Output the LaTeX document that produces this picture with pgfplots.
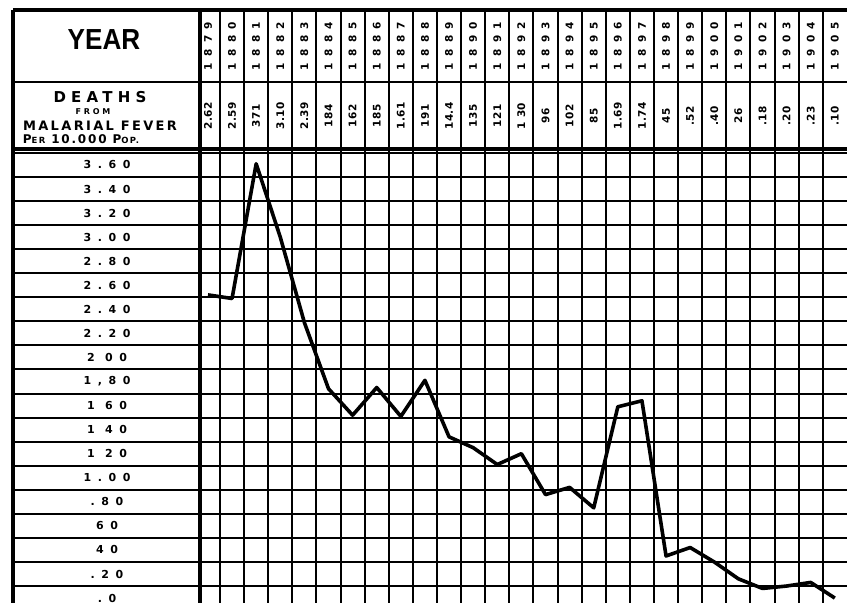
\documentclass[border=0pt]{standalone}
\usepackage{pgfplots}
\usepackage{pgfplotstable}
\pgfplotsset{compat=1.18}
\usepackage{fontspec}
\setmainfont{DejaVu Sans}
\newfontfamily\yearfont{Liberation Sans}
\newfontfamily\widefont[LetterSpace=60]{DejaVu Sans}
\newfontfamily\valfont[LetterSpace=4]{DejaVu Sans}

% deaths from malarial fever per 10,000 population
\pgfplotstableread{
year deaths
1879 2.62
1880 2.59
1881 3.71
1882 3.10
1883 2.39
1884 1.84
1885 1.62
1886 1.85
1887 1.61
1888 1.91
1889 1.44
1890 1.35
1891 1.21
1892 1.30
1893 0.96
1894 1.02
1895 0.85
1896 1.69
1897 1.74
1898 0.45
1899 0.52
1900 0.40
1901 0.26
1902 0.18
1903 0.20
1904 0.23
1905 0.10
}\malaria

\begin{document}
\begin{tikzpicture}[x=1pt,y=1pt]
\useasboundingbox (0,0) rectangle (847,603);
\begin{axis}[
  at={(13pt,0pt)}, anchor=south west,
  scale only axis, width=834pt, height=593pt,
  xmin=1870.914, xmax=1905.505, ymin=0.059, ymax=4.988,
  clip=false,
  axis x line*=top, axis y line*=left,
  axis line style={line width=3.5pt, black},
  major tick length=0pt, minor tick length=0pt,
  /pgf/number format/assume math mode=true,
  xtick={1879,1880,...,1905},
  xticklabels={1879,1880,1881,1882,1883,1884,1885,1886,1887,1888,1889,1890,1891,1892,1893,1894,1895,1896,1897,1898,1899,1900,1901,1902,1903,1904,1905},
  xticklabel style={rotate=90, anchor=center, xshift=-36pt, font=\widefont\bfseries\fontsize{10.5}{10.5}\selectfont},
  extra x ticks={1879,1880,...,1905},
  extra x tick labels={2.62,2.59,371,3.10,2.39,184,162,185,1.61,191,14.4,135,121,1 30,96,102,85,1.69,1.74,45,.52,.40,26,.18,.20,.23,.10},
  extra x tick style={xticklabel style={xshift=-70pt, font=\valfont\bfseries\fontsize{10.5}{10.5}\selectfont}},
  ytick={0.1,0.3,...,3.8},
  yticklabels={.0,.20,40,60,.80,1.00,1 20,1 40,1 60,{1,80},2 00,2.20,2.40,2.60,2.80,3.00,3.20,3.40,3.60},
  yticklabel style={anchor=center, xshift=94pt, font=\widefont\bfseries\fontsize{11}{11}\selectfont},
  minor xtick={1879.5,1880.5,...,1904.5},
  minor ytick={0.2,0.4,...,3.7},
  grid=minor,
  minor grid style={line width=2pt, black},
]
\draw[line width=3.2pt] (axis cs:1878.67,0.059) -- (axis cs:1878.67,4.988);
\draw[line width=3.2pt] (axis cs:1870.914,3.832) -- (axis cs:1905.505,3.832);
\draw[line width=2.2pt] (axis cs:1870.914,4.389) -- (axis cs:1905.505,4.389);
\addplot[black, line width=3.6pt, mark=none, line join=round] table[x=year, y=deaths] {\malaria};
\end{axis}
% header text of the left column
\node at (104,563) {\yearfont\bfseries\fontsize{29}{29}\selectfont\scalebox{0.9}[1]{YEAR}};
\node at (100,506) {\addfontfeature{LetterSpace=35}\bfseries\fontsize{15}{15}\selectfont DEATHS};
\node at (93,491) {\addfontfeature{LetterSpace=35}\bfseries\fontsize{8}{8}\selectfont FROM};
\node at (100,477) {\addfontfeature{LetterSpace=18}\bfseries\fontsize{13}{13}\selectfont MALARIAL FEVER};
\node at (81,464) {\addfontfeature{LetterSpace=15}\bfseries\fontsize{12}{12}\selectfont P{\fontsize{8.5}{8.5}\selectfont ER} 10.000 P{\fontsize{8.5}{8.5}\selectfont OP.}};
\end{tikzpicture}
\end{document}
